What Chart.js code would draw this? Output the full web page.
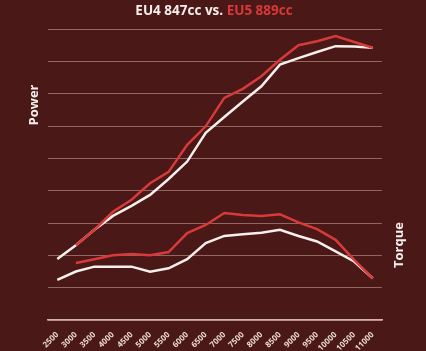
<!DOCTYPE html>
<html>
<head>
<meta charset="utf-8">
<script src="https://cdn.jsdelivr.net/npm/chart.js@4.4.1/dist/chart.umd.min.js"></script>
<style>
  html, body { margin:0; padding:0; background:#4a1816; }
  #wrap { width:426px; height:351px; position:relative; }
</style>
</head>
<body>
<div id="wrap"><canvas id="dyno"></canvas></div>
<script>
// rpm categories
const rpm = ['2500','3000','3500','4000','4500','5000','5500','6000','6500','7000','7500','8000','8500','9000','9500','10000','10500','11000'];

// values (arbitrary units, 0-90 grid)
const powerEU4  = [18.9, 23.1, 27.9, 32.2, 35.3, 38.7, 43.6, 49.0, 57.9, 62.8, 67.6, 72.3, 79.0, 81.0, 82.9, 84.7, 84.6, 84.2];
const powerEU5  = [null, 23.1, 27.9, 33.5, 37.2, 42.3, 45.8, 54.2, 59.9, 68.7, 71.5, 75.4, 80.5, 85.0, 86.2, 87.8, 86.0, 84.2];
const torqueEU4 = [12.4, 15.0, 16.5, 16.5, 16.5, 14.9, 16.0, 18.8, 23.8, 26.0, 26.5, 27.0, 27.9, 26.0, 24.3, 21.2, 18.1, 12.9];
const torqueEU5 = [null, 17.6, 18.8, 20.0, 20.4, 20.0, 21.0, 26.9, 29.4, 33.1, 32.5, 32.2, 32.7, 30.2, 28.1, 24.8, 18.6, 12.9];

const WHITE = '#f6efec';
const RED = '#d8393a';

// title + side labels drawn straight on the canvas
const labelsPlugin = {
  id: 'sideLabels',
  afterDraw(chart) {
    const ctx = chart.ctx;
    ctx.save();
    ctx.font = 'bold 13.5px "Open Sans"';
    ctx.textBaseline = 'middle';
    const a = 'EU4 847cc vs. ', b = 'EU5 889cc';
    const wa = ctx.measureText(a).width, wb = ctx.measureText(b).width;
    let x = 214 - (wa + wb) / 2;
    ctx.fillStyle = WHITE;
    ctx.fillText(a, x, 11);
    ctx.fillStyle = RED;
    ctx.fillText(b, x + wa, 11);

    ctx.font = 'bold 13px "Open Sans"';
    ctx.fillStyle = WHITE;
    ctx.textAlign = 'center';
    ctx.translate(34, 105);
    ctx.rotate(-Math.PI / 2);
    ctx.fillText('Power', 0, 0);
    ctx.restore();

    ctx.save();
    ctx.font = 'bold 13px "Open Sans"';
    ctx.fillStyle = WHITE;
    ctx.textAlign = 'center';
    ctx.textBaseline = 'middle';
    ctx.translate(399, 245);
    ctx.rotate(-Math.PI / 2);
    ctx.fillText('Torque', 0, 0);
    ctx.restore();
  }
};

const line = (data, color) => ({
  data, borderColor: color, borderWidth: 2.5, pointRadius: 0, tension: 0, fill: false
});

new Chart(document.getElementById('dyno'), {
  type: 'line',
  data: {
    labels: rpm,
    datasets: [
      line(powerEU5, RED),
      line(torqueEU5, RED),
      line(powerEU4, WHITE),
      line(torqueEU4, WHITE)
    ]
  },
  options: {
    responsive: true,
    maintainAspectRatio: false,
    animation: false,
    layout: { padding: { left: 48, right: 44, top: 29, bottom: 0 } },
    plugins: { legend: { display: false }, tooltip: { enabled: false } },
    scales: {
      x: {
        offset: true,
        grid: { display: false },
        border: { color: 'rgba(240,205,200,0.85)', width: 1.5 },
        ticks: {
          color: '#ecd9d5', font: { family: 'Open Sans', size: 8, weight: 'bold' },
          minRotation: 45, maxRotation: 45, padding: 2, autoSkip: false
        },
        afterFit(s) { s.height = 31; }
      },
      y: {
        min: 0, max: 90,
        ticks: { display: false, stepSize: 10 },
        border: { display: false },
        grid: { color: 'rgba(215,180,175,0.5)', lineWidth: 1, drawTicks: false },
        afterFit(s) { s.width = 0; }
      }
    }
  },
  plugins: [labelsPlugin]
});
</script>
</body>
</html>
